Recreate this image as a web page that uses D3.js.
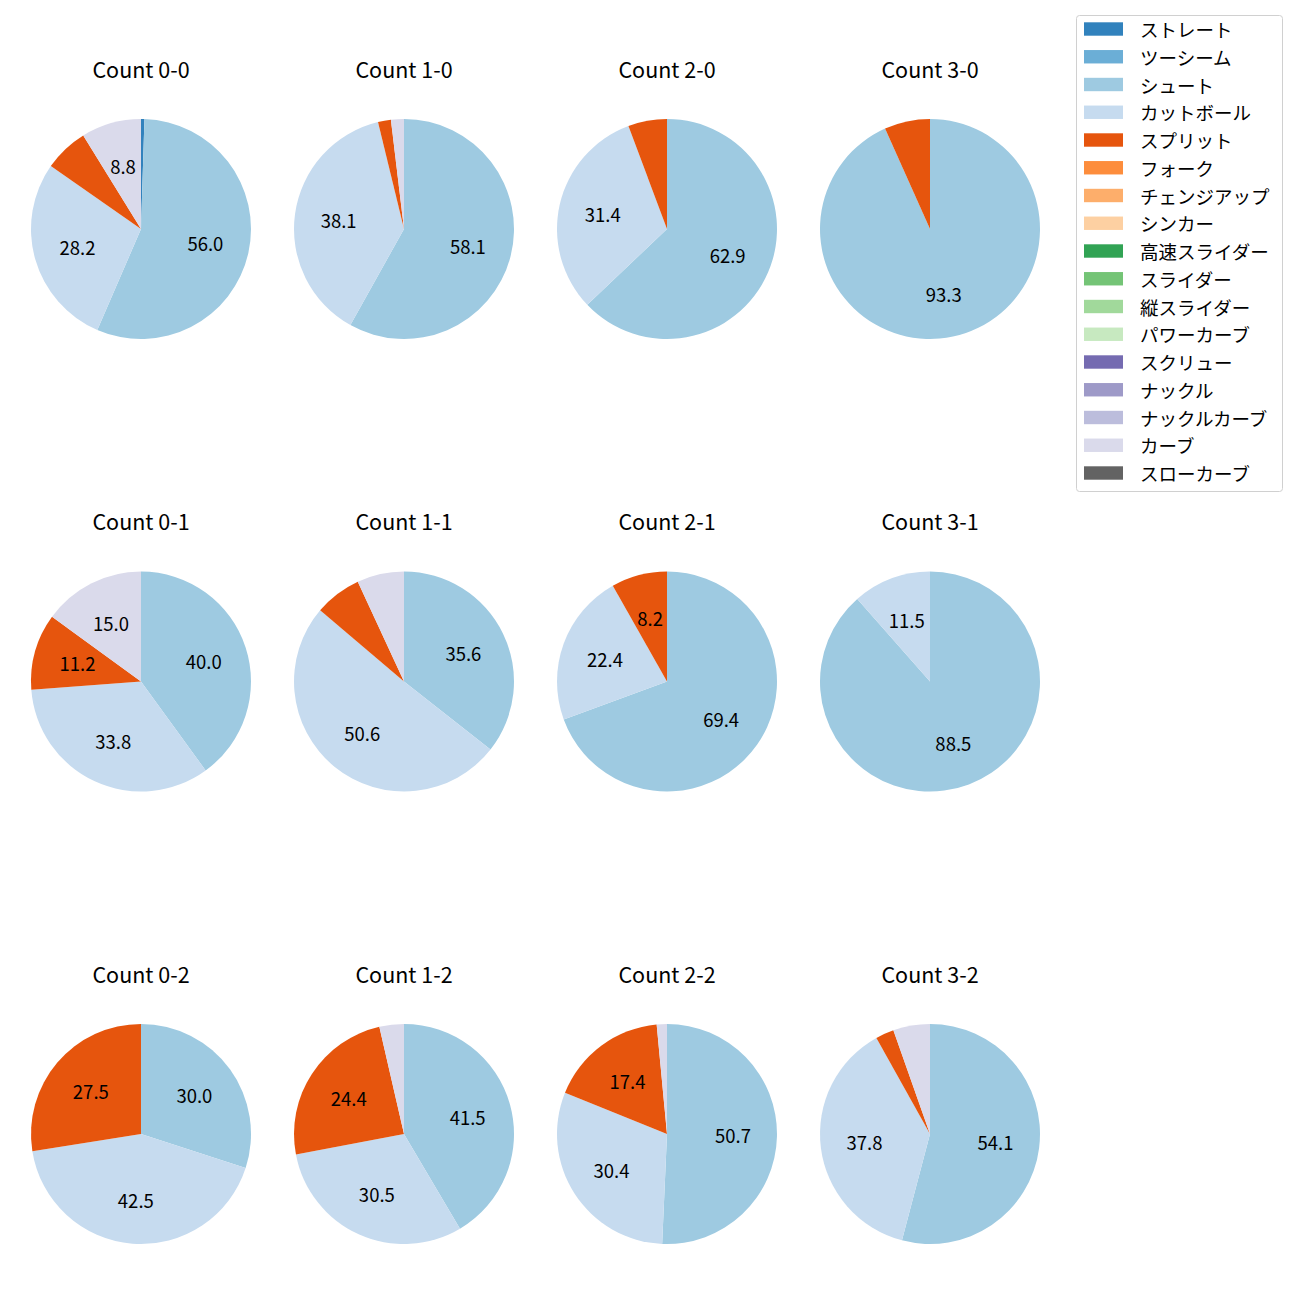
<!DOCTYPE html>
<html><head><meta charset="utf-8">
<script src="https://cdn.jsdelivr.net/npm/d3@7"></script>
<style>body{margin:0;background:#fff;} svg{display:block;font-family:"Noto Sans CJK JP","Noto Sans",sans-serif;}</style>
</head><body>
<script>
const counts = ["0-0","1-0","2-0","3-0","0-1","1-1","2-1","3-1","0-2","1-2","2-2","3-2"];
const pitchTypes = ["ストレート","ツーシーム","シュート","カットボール","スプリット","フォーク","チェンジアップ","シンカー","高速スライダー","スライダー","縦スライダー","パワーカーブ","スクリュー","ナックル","ナックルカーブ","カーブ","スローカーブ"];
const colors = ["#3182bd","#6baed6","#9ecae1","#c6dbef","#e6550d","#fd8d3c","#fdae6b","#fdd0a2","#31a354","#74c476","#a1d99b","#c7e9c0","#756bb1","#9e9ac8","#bcbddc","#dadaeb","#636363"];
// percentages per count (order of counts array)
const straight = [0.5,0,0,0,0,0,0,0,0,0,0,0];
const shoot    = [56.0,58.1,62.9,93.3,40.0,35.6,69.4,88.5,30.0,41.5,50.7,54.1];
const cutball  = [28.2,38.1,31.4,0,33.8,50.6,22.4,11.5,42.5,30.5,30.4,37.8];
const split    = [6.5,1.9,5.7,6.7,11.2,6.9,8.2,0,27.5,24.4,17.4,2.7];
const curve    = [8.8,1.9,0,0,15.0,6.9,0,0,0,3.6,1.5,5.4];
const seriesByType = {"ストレート":straight,"シュート":shoot,"カットボール":cutball,"スプリット":split,"カーブ":curve};

const W=1300,H=1300;
const svg=d3.select("body").append("svg").attr("width",W).attr("height",H);
const color=d3.scaleOrdinal().domain(pitchTypes).range(colors);
const colX=d3.scalePoint().domain([0,1,2,3]).range([141,930]);
const rowY=d3.scalePoint().domain([0,1,2]).range([229,1134]);
const R=110;
const pie=d3.pie().sort(null).value(d=>d.v);
const arc=d3.arc().innerRadius(0).outerRadius(R);
const labelArc=d3.arc().innerRadius(R*0.6).outerRadius(R*0.6);

counts.forEach((c,i)=>{
  const cx=colX(i%4), cy=rowY(Math.floor(i/4));
  const data=pitchTypes.map(p=>({p, v:(seriesByType[p]||[])[i]||0})).filter(d=>d.v>0);
  const total=d3.sum(data,d=>d.v);
  const g=svg.append("g").attr("transform",`translate(${cx},${cy})`);
  const arcs=pie(data);
  g.selectAll("path").data(arcs).join("path").attr("d",arc).attr("fill",d=>color(d.data.p));
  g.selectAll("text.lbl").data(arcs.filter(d=>d.data.v/total*100>=7.5)).join("text")
    .attr("class","lbl")
    .attr("transform",d=>`translate(${labelArc.centroid(d)})`)
    .attr("text-anchor","middle").attr("dominant-baseline","central")
    .attr("font-size",18.5).attr("fill","#000")
    .text(d=>(d.data.v/total*100).toFixed(1));
  svg.append("text").attr("x",cx).attr("y",cy-161).attr("text-anchor","middle")
    .attr("dominant-baseline","central").attr("font-size",21.5).attr("fill","#000")
    .text("Count "+c);
});

// legend
const lg=svg.append("g");
lg.append("rect").attr("x",1076.5).attr("y",15.5).attr("width",206).attr("height",476).attr("rx",3)
  .attr("fill","#fff").attr("fill-opacity",0.8).attr("stroke","#d0d0d0");
const ly=d3.scaleLinear().domain([0,16]).range([29,473]);
pitchTypes.forEach((p,i)=>{
  lg.append("rect").attr("x",1084).attr("y",ly(i)-6.7).attr("width",39).attr("height",13.4).attr("fill",color(p));
  lg.append("text").attr("x",1140).attr("y",ly(i)).attr("dominant-baseline","central")
    .attr("font-size",18.5).attr("fill","#000").text(p);
});
</script>
</body></html>
